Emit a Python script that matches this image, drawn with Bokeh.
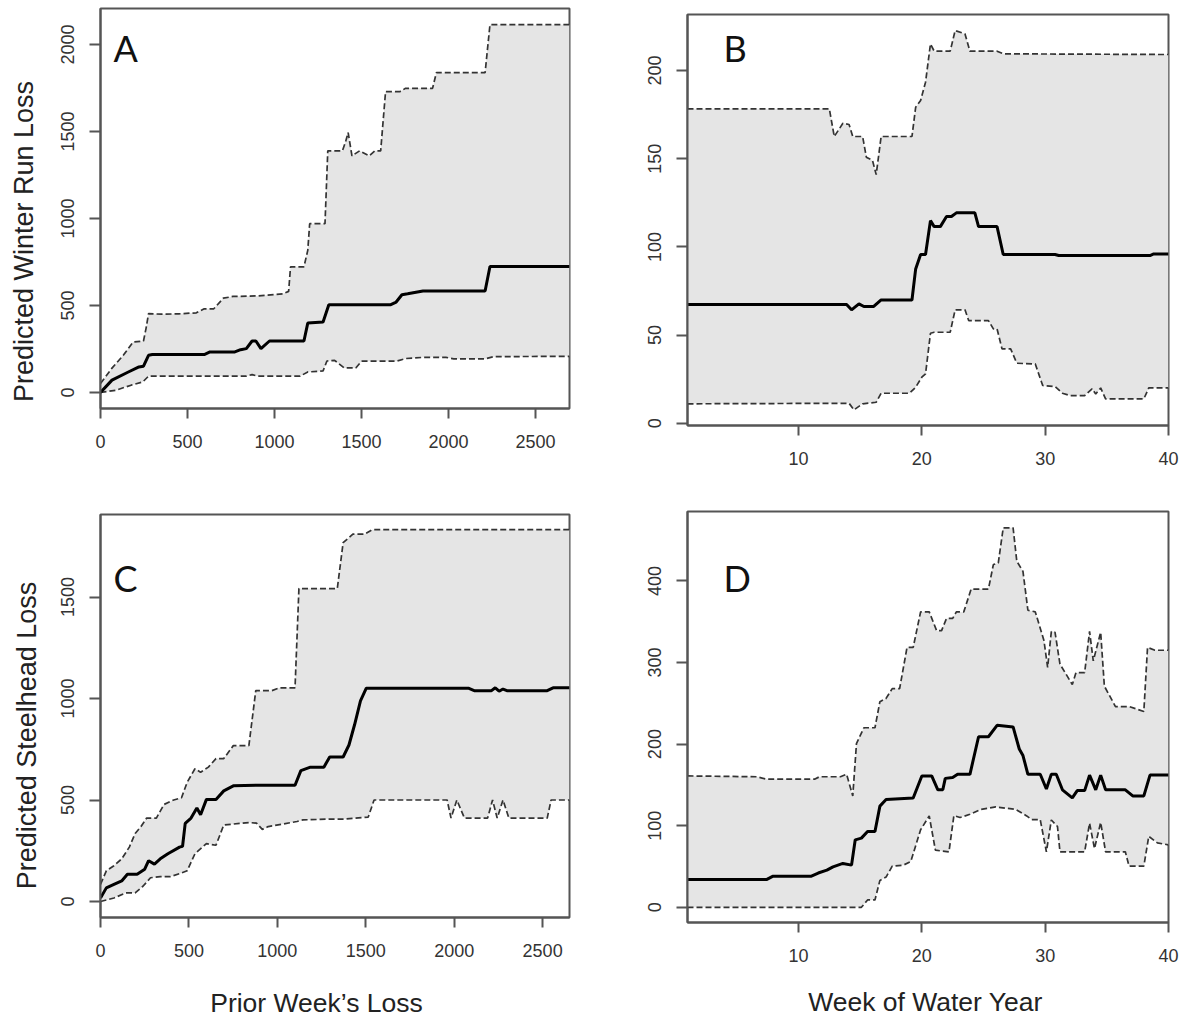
import math
from bokeh.plotting import figure
from bokeh.layouts import column, row
from bokeh.models import Range1d, FixedTicker, Label
from bokeh.embed import file_html
from bokeh.resources import INLINE

# ---------------- data ----------------
# Panel A: Predicted Winter Run Loss vs Prior Week's Loss
a_up_x = [0, 66, 132, 187, 247, 262, 276, 350, 450, 551, 596, 651, 706, 761, 900, 1048, 1081, 1092, 1169, 1191,
          1202, 1290, 1306, 1390, 1408, 1423, 1445, 1489, 1544, 1577, 1610, 1638, 1720, 1753, 1908, 1930, 2210, 2238, 2695]
a_up_y = [52, 140, 215, 290, 296, 370, 453, 450, 452, 458, 481, 481, 542, 552, 555, 567, 581, 722, 722, 817,
          970, 970, 1389, 1389, 1440, 1494, 1360, 1389, 1360, 1389, 1389, 1729, 1729, 1748, 1748, 1838, 1838, 2114, 2114]
a_md_x = [0, 66, 154, 221, 247, 276, 298, 596, 629, 772, 805, 838, 871, 893, 922, 971, 1169, 1191, 1279, 1312,
          1665, 1699, 1732, 1765, 1853, 2210, 2238, 2695]
a_md_y = [0, 71, 115, 147, 151, 214, 218, 218, 233, 233, 246, 252, 296, 296, 252, 296, 296, 399, 405, 504,
          504, 520, 562, 567, 583, 583, 724, 724]
a_lo_x = [0, 88, 176, 243, 276, 838, 871, 904, 1147, 1191, 1279, 1301, 1345, 1401, 1467, 1500, 1699, 1753, 1853, 1985,
          2030, 2206, 2261, 2695]
a_lo_y = [0, 13, 42, 61, 94, 94, 103, 94, 94, 118, 124, 181, 185, 141, 141, 180, 180, 195, 202, 202,
          193, 193, 206, 208]

# Panel B: Predicted Winter Run Loss vs Week of Water Year
b_up_x = [1, 12.5, 12.9, 13.6, 14.1, 14.4, 15.2, 15.5, 16.0, 16.3, 16.7, 19.2, 19.5, 19.9, 20.3, 20.7, 21.0, 22.3,
          22.7, 23.5, 23.9, 26.1, 26.6, 40]
b_up_y = [178.3, 178.3, 162.6, 170.1, 169.4, 162.6, 162.6, 150.9, 149, 141, 162.6, 162.6, 179.2, 183, 193.4, 215.1,
          211, 211, 222.7, 220.8, 211, 211, 209.5, 209.1]
b_md_x = [1, 13.9, 14.3, 14.9, 15.3, 16.1, 16.7, 19.2, 19.5, 19.9, 20.3, 20.7, 21.0, 21.5, 22.0, 22.4, 22.8, 24.3,
          24.6, 26.1, 26.6, 30.8, 31.1, 38.5, 38.8, 40]
b_md_y = [67.3, 67.3, 64.3, 67.7, 66.2, 66.2, 69.9, 69.9, 87.5, 95.7, 95.7, 114.9, 111.5, 111.5, 117.2, 117.2, 119.3,
          119.3, 111.5, 111.5, 95.7, 95.7, 95.1, 95.1, 96, 96]
b_lo_x = [1, 14.1, 14.5, 15.2, 16.3, 16.7, 19.0, 19.5, 20.0, 20.3, 20.7, 21.0, 22.3, 22.7, 23.5, 23.8, 25.4, 25.8,
          26.1, 26.5, 27.2, 27.7, 29.2, 29.8, 30.8, 31.4, 32.0, 33.2, 33.8, 34.1, 34.5, 34.9, 38.0, 38.4, 40]
b_lo_y = [11, 11.3, 7.6, 11, 11.9, 17, 17, 20.4, 26.1, 28, 51, 51.6, 51.6, 64.3, 64.3, 58.2, 58.2, 53.5,
          53.5, 42.2, 42.2, 34, 33.6, 21.4, 20.8, 17, 15.7, 15.7, 19.5, 16.6, 20, 13.8, 13.8, 20, 20]

# Panel C: Predicted Steelhead Loss vs Prior Week's Loss
c_up_x = [0, 33, 76, 120, 163, 196, 229, 261, 316, 359, 414, 458, 490, 534, 566, 610, 653, 697, 751, 839,
          878, 969, 1013, 1100, 1122, 1339, 1372, 1427, 1492, 1536, 2652]
c_up_y = [84, 151, 176, 210, 268, 335, 369, 411, 411, 478, 500, 511, 587, 654, 637, 662, 704, 704, 768, 768,
          1039, 1039, 1053, 1053, 1542, 1542, 1768, 1810, 1810, 1832, 1832]
c_md_x = [0, 33, 76, 120, 152, 207, 250, 272, 305, 338, 381, 447, 464, 479, 512, 545, 566, 599, 653, 697,
          751, 882, 1100, 1133, 1187, 1263, 1296, 1372, 1405, 1437, 1470, 1503, 2080, 2113, 2211, 2232, 2254, 2276,
          2298, 2526, 2559, 2652]
c_md_y = [17, 67, 84, 101, 134, 134, 159, 201, 184, 210, 235, 268, 272, 385, 411, 461, 427, 503, 503, 545,
          570, 573, 573, 645, 662, 662, 712, 712, 771, 872, 989, 1051, 1051, 1039, 1039, 1053, 1036, 1047,
          1039, 1039, 1053, 1053]
c_lo_x = [0, 76, 142, 196, 240, 283, 338, 392, 447, 490, 534, 599, 653, 697, 839, 882, 915, 948, 1111, 1144,
          1296, 1383, 1514, 1547, 1960, 1982, 2015, 2058, 2189, 2217, 2243, 2276, 2309, 2526, 2548, 2652]
c_lo_y = [0, 17, 42, 42, 75, 117, 122, 122, 137, 151, 235, 285, 277, 377, 389, 386, 355, 369, 394, 402,
          406, 406, 416, 500, 500, 411, 500, 411, 411, 500, 411, 500, 411, 411, 500, 500]

# Panel D: Predicted Steelhead Loss vs Week of Water Year
d_up_x = [1, 6.6, 7.4, 11.3, 11.7, 13.4, 13.9, 14.4, 14.7, 15.3, 16.2, 16.6, 17.1, 17.6, 18.2, 18.8, 19.3, 19.9,
          20.6, 21.2, 21.6, 22.0, 22.5, 22.8, 23.4, 24.0, 25.4, 25.8, 26.2, 26.6, 27.4, 27.7, 28.2, 28.6, 29.2,
          29.9, 30.2, 30.5, 30.8, 31.2, 32.2, 32.5, 33.2, 33.6, 33.9, 34.5, 34.8, 35.7, 36.8, 38.0, 38.3, 38.9, 40]
d_up_y = [161, 160, 157, 157, 160, 160, 163, 136.5, 200.6, 220, 220, 252, 256, 268, 268, 318.5, 318.5, 362,
          362, 339, 339, 354, 354, 362, 362, 390, 390, 420, 422, 465, 465, 424, 411.6, 364, 362,
          327, 294, 338, 337, 298, 273, 287.5, 287.5, 338, 302, 337, 271, 246, 246, 240, 318.5, 315, 315]
d_md_x = [1, 7.4, 7.9, 11.0, 11.6, 12.3, 12.8, 13.6, 14.3, 14.6, 15.1, 15.6, 16.2, 16.6, 17.1, 19.3, 20.0, 20.8,
          21.3, 21.7, 21.9, 22.5, 22.9, 23.9, 24.6, 25.4, 26.1, 27.4, 27.9, 28.2, 28.6, 29.6, 30.1, 30.5, 30.9,
          31.4, 32.2, 32.6, 33.2, 33.6, 34.1, 34.5, 34.9, 36.5, 37.1, 38.0, 38.5, 40]
d_md_y = [34, 34, 38, 38, 42, 45.5, 49.6, 53.8, 51.7, 82.7, 84.8, 93, 93, 124, 132, 134, 161, 161,
          144, 144, 158, 159, 163, 163, 209, 209, 223, 221, 194, 186, 163, 163, 145, 163, 163,
          144, 134, 143, 143, 162, 144, 162, 144, 144, 136.5, 136.5, 162, 162]
d_lo_x = [1, 15.1, 15.6, 16.2, 16.6, 17.1, 17.6, 18.5, 19.1, 19.9, 20.6, 21.1, 22.2, 22.6, 23.1, 23.9, 24.8, 26.0,
          27.6, 28.5, 28.9, 29.6, 30.1, 30.5, 31.0, 31.2, 33.2, 33.6, 34.0, 34.5, 34.9, 36.5, 36.8, 38.0, 38.4,
          39.1, 40]
d_lo_y = [0, 0, 9, 9, 33, 37, 50.5, 51.7, 56, 95, 112, 70, 68, 112.5, 110, 114, 120, 123,
          120, 112, 107.5, 107.5, 68, 107, 99, 68, 68, 103, 72, 104, 68, 68, 50.5, 50.5, 87,
          79, 76.5]

loss_ticks = [0, 500, 1000, 1500, 2000, 2500]
week_ticks = [10, 20, 30, 40]
a_yticks = [0, 500, 1000, 1500, 2000]
b_yticks = [0, 50, 100, 150, 200]
c_yticks = [0, 500, 1000, 1500]
d_yticks = [0, 100, 200, 300, 400]

panel_letters = ["A", "B", "C", "D"]
ylab_top = "Predicted Winter Run Loss"
ylab_bottom = "Predicted Steelhead Loss"
xlab_left = "Prior Week\u2019s Loss"
xlab_right = "Week of Water Year"

# ---------------- style ----------------
FRAME = "#555555"
FILL = "#e5e5e5"
BAND = "#333333"
SANS = "Liberation Sans"
LETTER_FONT = "Lato"


def panel(w, h, bl, br, bt, bb, xr, yr, xt, yt):
    p = figure(width=w, height=h, min_border_left=bl, min_border_right=br,
               min_border_top=bt, min_border_bottom=bb,
               x_range=Range1d(*xr), y_range=Range1d(*yr),
               output_backend="svg", toolbar_location=None)
    p.grid.visible = False
    p.background_fill_color = "white"
    p.border_fill_color = "white"
    p.outline_line_color = FRAME
    p.outline_line_width = 2
    p.outline_line_alpha = 1
    for ax in (p.xaxis[0], p.yaxis[0]):
        ax.axis_line_color = FRAME
        ax.axis_line_width = 2
        ax.major_tick_line_color = FRAME
        ax.major_tick_line_width = 2
        ax.minor_tick_line_color = None
        ax.major_tick_in = 0
        ax.major_label_text_font = SANS
        ax.major_label_text_font_size = "18px"
        ax.major_label_text_color = "#333333"
    p.xaxis[0].major_tick_out = 10
    p.yaxis[0].major_tick_out = 11
    p.xaxis[0].ticker = FixedTicker(ticks=xt)
    p.yaxis[0].ticker = FixedTicker(ticks=yt)
    p.yaxis[0].major_label_orientation = "vertical"
    p.xaxis[0].major_label_standoff = 16
    p.yaxis[0].major_label_standoff = 15
    return p


def text_strip(w, h, bl, br):
    """An empty plotting area, used only to hold a title text."""
    p = figure(width=w, height=h, min_border_left=bl, min_border_right=br,
               min_border_top=0, min_border_bottom=0, title=None,
               x_axis_location=None, y_axis_location=None,
               x_range=Range1d(0, 1), y_range=Range1d(0, 1),
               output_backend="svg", toolbar_location=None)
    p.grid.visible = False
    p.outline_line_color = None
    p.background_fill_color = "white"
    p.border_fill_color = "white"
    return p


def draw(p, ux, uy, mx, my, lx, ly):
    p.patch(ux + lx[::-1], uy + ly[::-1], fill_color=FILL, line_color=None)
    p.line(ux, uy, line_color=BAND, line_width=1.7, line_dash="6 3")
    p.line(lx, ly, line_color=BAND, line_width=1.7, line_dash="6 3")
    p.line(mx, my, line_color="black", line_width=3)


def letter(p, txt, x, y):
    p.add_layout(Label(x=x, y=y, x_units="screen", y_units="screen", text=txt,
                       text_font=LETTER_FONT, text_font_size="36px", text_color="#111111",
                       text_align="left", text_baseline="middle"))


def title_text(p, txt, x, y, angle, size):
    p.add_layout(Label(x=x, y=y, x_units="screen", y_units="screen", text=txt, angle=angle,
                       text_font=SANS, text_font_size=size, text_color="#222222",
                       text_align="center", text_baseline="middle"))


# left strip with the two vertical titles
tA = text_strip(44, 480, 0, 0)
title_text(tA, ylab_top, 23, 239, math.pi / 2, "27px")
tC = text_strip(44, 539, 0, 0)
title_text(tC, ylab_bottom, 26, 284, math.pi / 2, "27px")

pA = panel(556, 480, 56, 31, 8, 72, (0, 2695), (-92, 2207), loss_ticks, a_yticks)
draw(pA, a_up_x, a_up_y, a_md_x, a_md_y, a_lo_x, a_lo_y)
letter(pA, panel_letters[0], 13, 361)

pC = panel(556, 485, 56, 31, 34, 48, (0, 2652), (-79, 1907), loss_ticks, c_yticks)
draw(pC, c_up_x, c_up_y, c_md_x, c_md_y, c_lo_x, c_lo_y)
letter(pC, panel_letters[2], 13, 340)

xL = text_strip(556, 54, 56, 31)
title_text(xL, xlab_left, 216, 17, 0, "26.5px")

pB = panel(584, 480, 87, 16, 14, 55, (1, 40), (-1.3, 231.8), week_ticks, b_yticks)
draw(pB, b_up_x, b_up_y, b_md_x, b_md_y, b_lo_x, b_lo_y)
letter(pB, panel_letters[1], 36, 378)

pD = panel(584, 490, 87, 16, 31, 48, (1, 40), (-18.6, 485), week_ticks, d_yticks)
draw(pD, d_up_x, d_up_y, d_md_x, d_md_y, d_lo_x, d_lo_y)
letter(pD, panel_letters[3], 36, 345)

xR = text_strip(584, 49, 87, 16)
title_text(xR, xlab_right, 238, 18, 0, "26.5px")

layout = row(column(tA, tC), column(pA, pC, xL), column(pB, pD, xR))
open("out.html", "w").write(file_html(layout, INLINE))
